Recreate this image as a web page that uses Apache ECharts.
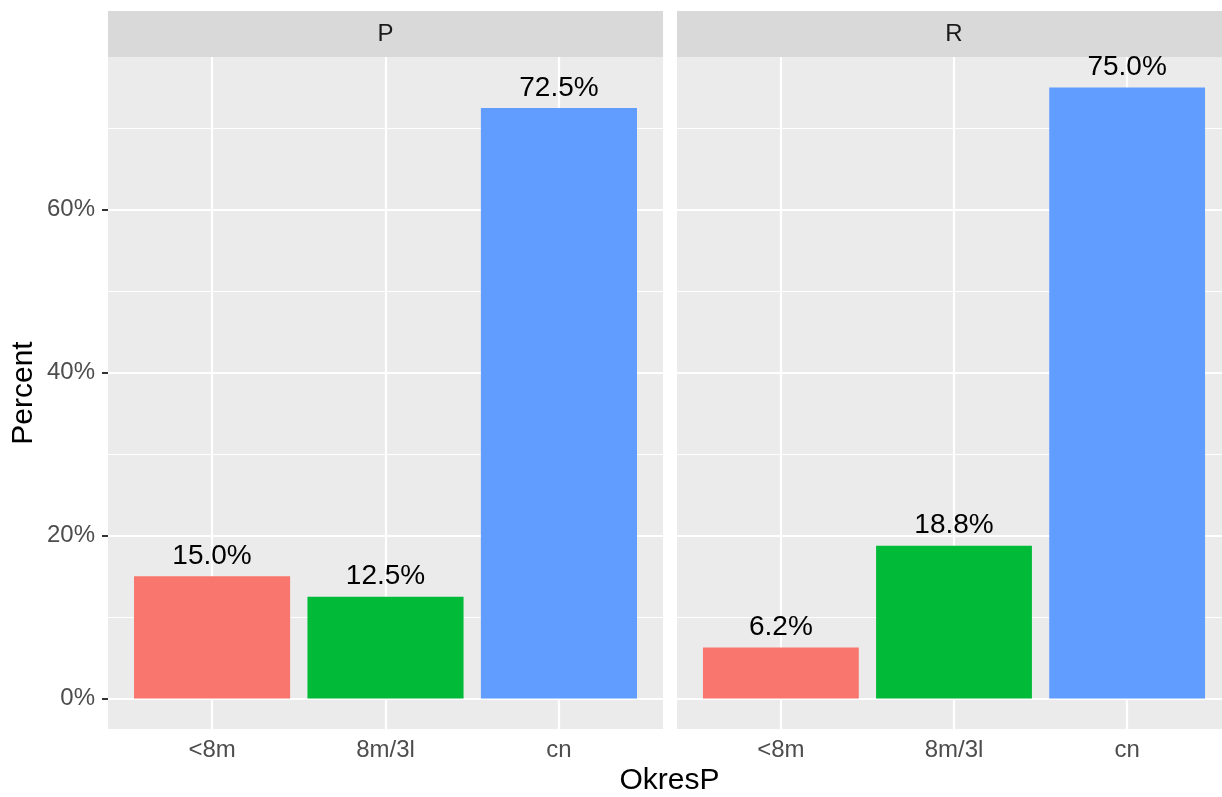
<!DOCTYPE html>
<html>
<head>
<meta charset="utf-8">
<script src="https://cdn.jsdelivr.net/npm/echarts@6/dist/echarts.min.js"></script>
<style>html,body{margin:0;padding:0;background:#fff}#c{width:1222px;height:797px}</style>
</head>
<body>
<div id="c"></div>
<script>
const categories = ['<8m', '8m/3l', 'cn'];
const facets = ['P', 'R'];
const valuesP = [15.0, 12.5, 72.5];
const valuesR = [6.25, 18.75, 75.0];
const labelsP = ['15.0%', '12.5%', '72.5%'];
const labelsR = ['6.2%', '18.8%', '75.0%'];
const yTicks = [0, 20, 40, 60];
const yMinor = [10, 30, 50, 70];
const colors = ['#F8766D', '#00BA38', '#619CFF'];

const FONT = 'Liberation Sans, Arial, sans-serif';
// full panel widths (second panel runs past the right edge of the picture)
const panels = [
  {left: 108, width: 555},
  {left: 677, width: 554}
];
const CANVAS_W = 1222;
const TOP = 57, HEIGHT = 672, STRIP_TOP = 11;

const chart = echarts.init(document.getElementById('c'), null, {renderer: 'canvas'});

const seriesVals = [valuesP, valuesR];
const seriesLabels = [labelsP, labelsR];

panels.forEach(p => {
  p.unit = p.width / 3.2;
  p.visW = Math.min(p.width, CANVAS_W - p.left);
  p.xMax = 0.4 + p.visW / p.unit;
});

const grids = panels.map(p => ({
  left: p.left, top: TOP, width: p.visW, height: HEIGHT,
  show: true, backgroundColor: '#EBEBEB', borderWidth: 0
}));

const xAxes = panels.map((p, i) => ({
  type: 'value', gridIndex: i, min: 0.4, max: p.xMax,
  axisLine: {show: false},
  splitLine: {show: false},
  axisTick: {show: true, customValues: [1, 2, 3], length: 6, lineStyle: {color: '#333333', width: 2}},
  axisLabel: {
    customValues: [1, 2, 3], margin: 9,
    color: '#4D4D4D', fontSize: 24, fontFamily: FONT,
    formatter: v => categories[Math.round(v) - 1] || ''
  }
}));

const yAxes = panels.map((p, i) => ({
  type: 'value', gridIndex: i, min: -3.75, max: 78.75,
  axisLine: {show: false},
  splitLine: {show: false},
  axisTick: {show: i === 0, customValues: yTicks, length: 6, lineStyle: {color: '#333333', width: 2}},
  axisLabel: {
    show: i === 0, customValues: yTicks, margin: 13,
    color: '#4D4D4D', fontSize: 24, fontFamily: FONT,
    formatter: v => v + '%'
  }
}));

const gridLines = [];
yMinor.forEach(v => gridLines.push({yAxis: v, lineStyle: {color: '#FFFFFF', width: 1.1, type: 'solid'}}));
yTicks.forEach(v => gridLines.push({yAxis: v, lineStyle: {color: '#FFFFFF', width: 2.2, type: 'solid'}}));
[1, 2, 3].forEach(v => gridLines.push({xAxis: v, lineStyle: {color: '#FFFFFF', width: 2.2, type: 'solid'}}));

const series = [];
panels.forEach((p, i) => {
  series.push({
    type: 'bar', xAxisIndex: i, yAxisIndex: i, z: 10,
    barWidth: p.unit * 0.9,
    data: seriesVals[i].map((v, k) => ({value: [k + 1, v], itemStyle: {color: colors[k]}})),
    label: {
      show: true, position: 'top', distance: 6,
      color: '#000000', fontSize: 28, fontFamily: FONT,
      formatter: prm => seriesLabels[i][prm.dataIndex]
    },
    silent: true,
    animation: false
  });
  series.push({
    type: 'line', xAxisIndex: i, yAxisIndex: i, z: 1, data: [],
    markLine: {
      z: 1, silent: true, symbol: ['none', 'none'], label: {show: false},
      animation: false,
      data: gridLines
    }
  });
});

const graphics = [];
panels.forEach((p, i) => {
  graphics.push({
    type: 'rect', left: p.left, top: STRIP_TOP, z: 0,
    shape: {width: p.width, height: TOP - STRIP_TOP},
    style: {fill: '#D9D9D9'}
  });
  graphics.push({
    type: 'text', x: p.left + p.width / 2, y: (STRIP_TOP + TOP) / 2, z: 1,
    style: {text: facets[i], fill: '#1A1A1A', font: '24px ' + FONT, textAlign: 'center', textVerticalAlign: 'middle'}
  });
});
graphics.push({
  type: 'text', x: 24, y: TOP + HEIGHT / 2, rotation: Math.PI / 2,
  style: {text: 'Percent', fill: '#000000', font: '30px ' + FONT, textAlign: 'center', textVerticalAlign: 'middle'}
});
graphics.push({
  type: 'text', x: (108 + 1231) / 2, y: 781,
  style: {text: 'OkresP', fill: '#000000', font: '30px ' + FONT, textAlign: 'center', textVerticalAlign: 'middle'}
});

chart.setOption({
  animation: false,
  backgroundColor: '#FFFFFF',
  grid: grids,
  xAxis: xAxes,
  yAxis: yAxes,
  series: series,
  graphic: graphics
});
</script>
</body>
</html>
